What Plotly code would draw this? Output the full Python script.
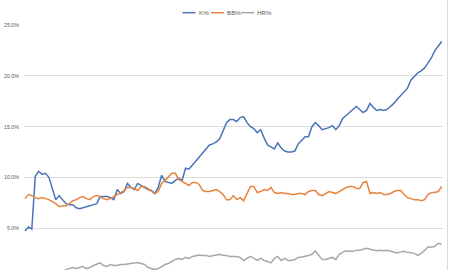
import plotly.graph_objects as go

years = list(range(1898, 2021))

k_pct = [4.7, 5.1, 4.9, 10.1, 10.6, 10.3, 10.4, 10.0, 8.9, 7.8,
         8.2, 7.8, 7.4, 7.3, 7.3, 7.0, 6.9, 7.0, 7.1, 7.2,
         7.3, 7.4, 8.1, 8.1, 8.1, 8.0, 7.8, 8.8, 8.4, 8.6,
         9.4, 9.0, 8.8, 9.4, 9.2, 9.0, 8.8, 8.7, 8.4, 9.0,
         10.2, 9.6, 9.5, 9.4, 9.7, 9.9, 9.7, 10.9, 10.8, 11.2,
         11.7, 12.1, 12.5, 12.8, 13.2, 13.3, 13.5, 13.8, 14.6, 15.4,
         15.7, 15.7, 15.5, 15.9, 16.0, 15.4, 15.0, 14.8, 14.4, 14.7,
         13.9, 13.2, 13.0, 12.8, 13.4, 12.9, 12.6, 12.5, 12.5, 12.6,
         13.3, 13.6, 14.0, 14.0, 15.0, 15.4, 15.1, 14.7, 14.8, 14.9,
         15.1, 14.7, 15.1, 15.8, 16.1, 16.4, 16.7, 17.0, 16.7, 16.4,
         16.6, 17.3, 16.9, 16.6, 16.7, 16.6, 16.7, 17.0, 17.3, 17.7,
         18.1, 18.5, 18.8, 19.6, 20.0, 20.3, 20.5, 20.8, 21.3, 21.8,
         22.5, 23.0, 23.4]

bb_pct = [7.9, 8.3, 8.2, 8.0, 7.9, 8.0, 7.9, 7.8, 7.6, 7.4,
          7.1, 7.2, 7.2, 7.4, 7.7, 7.8, 8.0, 8.1, 7.9, 7.8,
          8.1, 8.2, 8.1, 7.9, 7.8, 7.9, 8.1, 8.3, 8.5, 8.7,
          9.0, 9.0, 8.9, 8.7, 9.1, 9.1, 8.9, 8.6, 8.4, 8.6,
          9.4, 9.7, 10.1, 10.4, 10.4, 9.8, 9.6, 9.4, 9.2, 9.5,
          9.5, 9.3, 8.7, 8.6, 8.6, 8.7, 8.8, 8.6, 8.3, 7.8,
          7.8, 8.2, 7.8, 8.0, 7.7, 8.4, 9.1, 9.1, 8.5, 8.6,
          8.8, 8.7, 9.0, 8.5, 8.4, 8.5, 8.4, 8.4, 8.3, 8.3,
          8.4, 8.4, 8.3, 8.6, 8.7, 8.7, 8.3, 8.2, 8.4, 8.6,
          8.5, 8.4, 8.6, 8.8, 9.0, 9.1, 9.1, 8.9, 8.9, 9.5,
          9.6, 8.4, 8.5, 8.4, 8.5, 8.3, 8.3, 8.4, 8.6, 8.7,
          8.7, 8.3, 8.0, 7.9, 7.8, 7.8, 7.7, 7.8, 8.3, 8.5,
          8.5, 8.6, 9.1]

hr_pct = [0.4, 0.3, 0.4, 0.5, 0.4, 0.3, 0.4, 0.3, 0.4, 0.5,
          0.6, 0.7, 0.9, 1.0, 1.1, 1.0, 1.1, 1.2, 1.0, 1.1,
          1.3, 1.4, 1.56, 1.3, 1.2, 1.4, 1.3, 1.3, 1.4, 1.4,
          1.45, 1.55, 1.58, 1.6, 1.5, 1.4, 1.1, 1.0, 0.9, 1.0,
          1.2, 1.4, 1.5, 1.7, 1.9, 2.0, 1.9, 2.1, 2.0, 2.2,
          2.3, 2.35, 2.3, 2.3, 2.2, 2.3, 2.35, 2.4, 2.3, 2.3,
          2.2, 2.2, 2.2, 2.1, 1.8, 2.0, 2.2, 2.0, 1.8, 2.0,
          1.8, 1.7, 1.56, 2.0, 2.2, 1.8, 2.0, 1.8, 1.8, 1.9,
          2.1, 2.15, 2.2, 2.3, 2.4, 2.75, 2.3, 1.9, 1.9, 2.0,
          2.1, 1.9, 2.4, 2.6, 2.75, 2.7, 2.7, 2.8, 2.8, 2.9,
          3.0, 2.9, 2.8, 2.75, 2.8, 2.75, 2.8, 2.7, 2.6, 2.55,
          2.65, 2.7, 2.6, 2.55, 2.5, 2.3, 2.5, 2.8, 3.15, 3.1,
          3.2, 3.5, 3.4]

series_names = ["K%", "BB%", "HR%"]
series_values = [k_pct, bb_pct, hr_pct]
colors = ["#4A74B8", "#E8833E", "#A8A8A8"]

fig = go.Figure()
for name, vals, col in zip(series_names, series_values, colors):
    fig.add_trace(go.Scatter(x=years, y=vals, mode="lines", name=name,
                             line=dict(color=col, width=1.5),
                             showlegend=False))

W, H = 450, 270
ml, mr, mt, mb = 24, 7, 25, 0
pw = W - ml - mr

def px_to_paper_x(px):
    return (px - ml) / pw

def py_to_paper_y(py):
    return 1 - (py - mt) / (H - mt - mb)

# Custom compact legend (Excel style)
legend_items = [(182.5, 195.5, 196.5, "K%"), (211, 224, 224.5, "BB%"), (241, 254, 254.5, "HR%")]
shapes = []
annotations = []
for (x0, x1, tx, label), col in zip(legend_items, colors):
    shapes.append(dict(type="line", xref="paper", yref="paper",
                       x0=px_to_paper_x(x0), x1=px_to_paper_x(x1),
                       y0=py_to_paper_y(12.7), y1=py_to_paper_y(12.7),
                       line=dict(color=col, width=1.5)))
    annotations.append(dict(text=label, xref="paper", yref="paper",
                            x=px_to_paper_x(tx), y=py_to_paper_y(12.7),
                            xanchor="left", yanchor="middle", showarrow=False,
                            font=dict(size=6.2, color="#595959",
                                      family="Liberation Sans, Arial, sans-serif")))

# Right chart border
shapes.append(dict(type="line", xref="paper", yref="paper",
                   x0=px_to_paper_x(447.5), x1=px_to_paper_x(447.5),
                   y0=-0.1, y1=py_to_paper_y(0),
                   line=dict(color="#D9D9D9", width=1)))

x_per_year = (441.7 - 25.0) / (years[-1] - years[0])
x_lo = years[0] - (25.0 - ml) / x_per_year
x_hi = x_lo + pw / x_per_year

fig.update_layout(
    width=W, height=H,
    margin=dict(l=ml, r=mr, t=mt, b=mb, pad=0),
    paper_bgcolor="white", plot_bgcolor="white",
    shapes=shapes, annotations=annotations,
    xaxis=dict(range=[x_lo, x_hi], showgrid=False, showticklabels=False,
               zeroline=False, showline=False, ticks=""),
    yaxis=dict(range=[0.86, 25.03], tick0=0, dtick=5, tickformat=".1f",
               ticksuffix="%", showgrid=True, gridcolor="#DDDDDD", gridwidth=1,
               zeroline=False, showline=False, ticks="", automargin=False,
               ticklabelstandoff=4,
               tickfont=dict(size=5.3, color="#595959",
                             family="Liberation Sans, Arial, sans-serif")),
    showlegend=False,
)

fig.write_html("out.html")
